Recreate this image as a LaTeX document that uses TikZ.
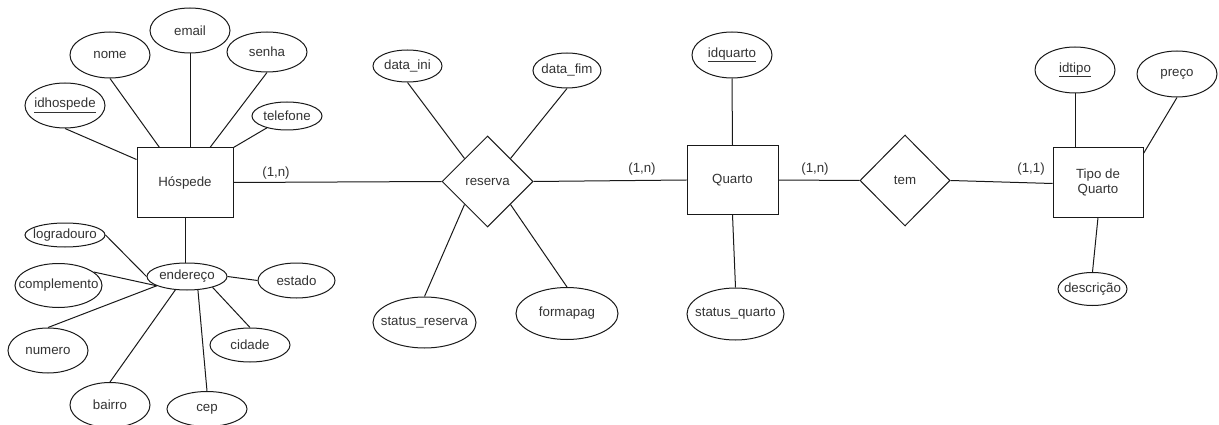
\documentclass[tikz,border=0pt]{standalone}
\usepackage{fontspec}
\setmainfont{Liberation Sans}
\usetikzlibrary{shapes.geometric,calc}
\definecolor{txt}{HTML}{333333}
\tikzset{
  base/.style={line width=1pt, draw=black!90},
  attr/.style={base, shape=ellipse, inner sep=0pt, fill=white},
  ent/.style={base, shape=rectangle, inner sep=0pt, align=center, text=txt,
    font=\fontsize{13.3}{15.5}\selectfont},
  rel/.style={base, shape=diamond, aspect=1, inner sep=0pt, text=txt,
    minimum width=91pt, minimum height=91pt, font=\fontsize{13.3}{15.5}\selectfont},
  atxt/.style={text=txt, font=\fontsize{13.3}{15.5}\selectfont, inner sep=0pt},
  card/.style={text=txt, font=\fontsize{13.3}{15.5}\selectfont, inner sep=0pt},
  conn/.style={line width=1pt, draw=black!90},
}
\newcommand{\attrnode}[6]{% name, x, y, w, h, text
  \node[attr, minimum width=#4pt, minimum height=#5pt] (#1) at (#2,#3) {};
  \node[atxt] (#1-t) at (#1.center) {#6};
}
\begin{document}
\begin{tikzpicture}[x=1pt,y=-1pt]
\useasboundingbox (0,0) rectangle (1219,425);

% entities
\node[ent, minimum width=96pt, minimum height=69pt] (hosp) at (185,182.5) {Hóspede};
\node[ent, minimum width=91pt, minimum height=68pt] (quarto) at (732.5,180) {Quarto};
\node[ent, minimum width=90pt, minimum height=69pt] (tipo) at (1098,182.5) {Tipo de\\Quarto};

% relationships
\node[rel] (reserva) at (487.5,181.5) {reserva};
\node[rel, minimum width=90pt] (tem) at (905,180.5) {tem};

% Hospede attributes
\attrnode{idh}{65}{105.5}{80}{45}{\underline{idhospede}}
\attrnode{nome}{110}{55}{80}{46}{nome}
\attrnode{email}{190}{30.5}{80}{45}{email}
\attrnode{senha}{267}{52}{80}{40}{senha}
\attrnode{tel}{287}{116}{70}{28}{telefone}
\attrnode{end}{187}{276.5}{80}{27}{endereço}
\attrnode{log}{65}{235}{80}{24}{logradouro}
\attrnode{comp}{58.5}{285.5}{87}{44}{complemento}
\attrnode{num}{48}{350.5}{80}{45}{numero}
\attrnode{bai}{110}{405}{80}{45}{bairro}
\attrnode{cep}{207}{409}{80}{35}{cep}
\attrnode{cid}{250}{345}{80}{34}{cidade}
\attrnode{est}{296.5}{280.5}{77}{35}{estado}

% reserva attributes
\attrnode{dini}{407.5}{66}{69}{32}{data\_ini}
\attrnode{dfim}{567}{70.5}{68}{35}{data\_fim}
\attrnode{sres}{424.5}{322.5}{103}{51}{status\_reserva}
\attrnode{fpag}{567}{313.5}{102}{52}{formapag}

% quarto attributes
\attrnode{idq}{732}{55}{80}{46}{\underline{idquarto}}
\attrnode{squa}{735.5}{314}{97}{52}{status\_quarto}

% tipo attributes
\attrnode{idt}{1075}{70}{80}{46}{\underline{idtipo}}
\attrnode{preco}{1177}{74}{80}{46}{preço}
\attrnode{desc}{1092.5}{289}{69}{33}{descrição}

% cardinalities
\node[card] (c1) at (276,173) {(1,n)};
\node[card] (c2) at (642,169) {(1,n)};
\node[card] (c3) at (815,169.5) {(1,n)};
\node[card] (c4) at (1031,169.5) {(1,1)};

% connectors
\draw[conn] (idh.south) -- ($(hosp.north west)+(0,12)$);
\draw[conn] (nome.south) -- ($(hosp.north west)+(23,0)$);
\draw[conn] (email.south) -- (email.south |- hosp.north);
\draw[conn] (senha.south) -- ($(hosp.north)+(25,0)$);
\draw[conn] (tel) -- (hosp.north east);
\draw[conn] (hosp.south) -- (hosp.south |- end.north);

\draw[conn] (log.east) -- (end.west);
\draw[conn] (comp.21) -- (end.197);
\draw[conn] (num.north) -- (end.197);
\draw[conn] (bai.north) -- (end.229);
\draw[conn] (cep.north) -- (end.309);
\draw[conn] (cid.north) -- (end.337);
\draw[conn] (est.west) -- (end.east);

\draw[conn] (hosp.east) -- (reserva.west);
\draw[conn] (reserva.east) -- (quarto.west);
\draw[conn] (dini.south) -- (reserva.135);
\draw[conn] (dfim.south) -- (reserva.45);
\draw[conn] (sres.north) -- (reserva.225);
\draw[conn] (fpag.north) -- (reserva.315);

\draw[conn] (idq.south) -- (quarto.north);
\draw[conn] (quarto.south) -- (squa.north);
\draw[conn] (quarto.east) -- (tem.west);
\draw[conn] (tem.east) -- ($(tipo.west)+(0,1)$);

\draw[conn] (idt.south) -- (idt.south |- tipo.north);
\draw[conn] (preco.south) -- ($(tipo.north east)+(0,6)$);
\draw[conn] (tipo.south) -- (desc.north);
\end{tikzpicture}
\end{document}
